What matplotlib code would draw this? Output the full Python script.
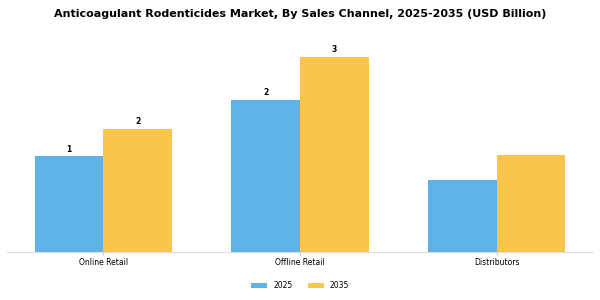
import numpy as np
import matplotlib.pyplot as plt

categories = ["Online Retail", "Offline Retail", "Distributors"]
years = ["2025", "2035"]
values_2025 = [1.36, 2.16, 1.03]
values_2035 = [1.75, 2.77, 1.38]
# bars that carry a rounded value label
labels_2025 = ["1", "2", ""]
labels_2035 = ["2", "3", ""]

colors = ["#5DB3E6", "#F9C54C"]

fig = plt.figure(figsize=(6, 3), dpi=100)
ax = fig.add_axes([0.012, 0.16, 0.976, 0.71])

x = np.arange(len(categories))
w = 0.35
b1 = ax.bar(x - w / 2, values_2025, w, color=colors[0], label=years[0])
b2 = ax.bar(x + w / 2, values_2035, w, color=colors[1], label=years[1])

for bars, labs in [(b1, labels_2025), (b2, labels_2035)]:
    for bar, lab in zip(bars, labs):
        if lab:
            ax.text(bar.get_x() + bar.get_width() / 2, bar.get_height() + 0.04, lab,
                    ha="center", va="bottom", fontsize=5.5, fontweight="bold")

ax.set_xlim(-0.49, 2.49)
ax.set_ylim(0, 3.03)
ax.set_xticks(x)
ax.set_xticklabels(categories, fontsize=5.5)
ax.tick_params(axis="x", length=2.5, color="#cccccc", pad=2)
ax.set_yticks([])
for s in ["top", "right", "left"]:
    ax.spines[s].set_visible(False)
ax.spines["bottom"].set_color("#dddddd")

fig.suptitle("Anticoagulant Rodenticides Market, By Sales Channel, 2025-2035 (USD Billion)",
             fontsize=8.0, fontweight="bold", y=0.97)
fig.legend(loc="lower center", ncol=2, frameon=False, fontsize=5.5,
           bbox_to_anchor=(0.5, 0.01), handlelength=2.1, handleheight=0.7,
           handletextpad=0.8, columnspacing=2.0)

fig.savefig("out.png", dpi=100)
